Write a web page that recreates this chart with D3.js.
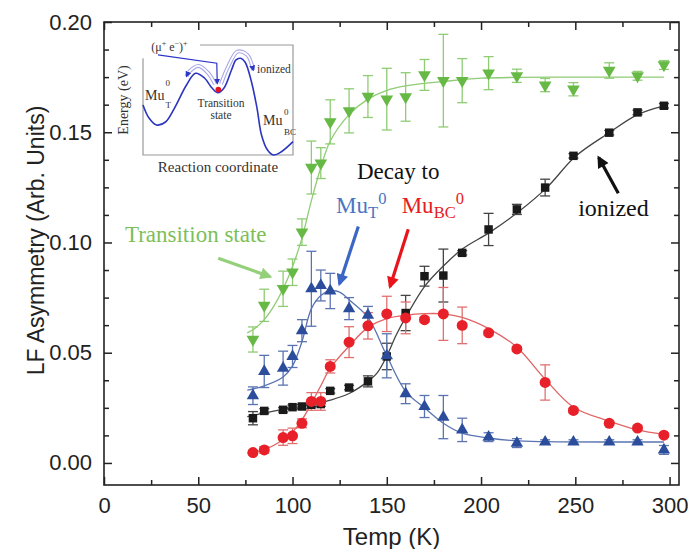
<!DOCTYPE html>
<html>
<head>
<meta charset="utf-8">
<script src="https://cdn.jsdelivr.net/npm/d3@7"></script>
<style>
  body { margin: 0; background: #fff; }
</style>
</head>
<body>
<svg id="chart" width="688" height="549"></svg>
<script>
// temperatures shared by all four series (K)
const temps = [79, 85, 95, 100, 105, 110, 115, 120, 130, 140, 150, 160, 170, 180, 190, 204, 219, 234, 249, 268, 283, 297];

const transState = [0.056, 0.0715, 0.079, 0.0865, 0.1047, 0.134, 0.136, 0.1547, 0.1597, 0.1662, 0.165, 0.166, 0.176, 0.1734, 0.1734, 0.1768, 0.1756, 0.1714, 0.1695, 0.178, 0.1756, 0.1805];
const transErr   = [0.0057, 0.0073, 0.008, 0.006, 0.006, 0.012, 0.007, 0.01, 0.01, 0.0095, 0.014, 0.011, 0.007, 0.021, 0.01, 0.0075, 0.003, 0.003, 0.003, 0.0035, 0.002, 0.002];

const muT    = [0.0305, 0.0415, 0.043, 0.0483, 0.06, 0.079, 0.0805, 0.078, 0.07, 0.067, 0.0486, 0.0314, 0.0256, 0.0208, 0.015, 0.0117, 0.009, 0.0095, 0.0095, 0.0095, 0.0095, 0.0059];
const muTErr = [0.004, 0.0073, 0.0077, 0.005, 0.005, 0.017, 0.007, 0.008, 0.005, 0.004, 0.01, 0.0045, 0.005, 0.0098, 0.0053, 0.002, 0.002, 0.001, 0.001, 0.001, 0.001, 0.002];

const muBC    = [0.0047, 0.0059, 0.0115, 0.0123, 0.018, 0.0279, 0.0279, 0.0438, 0.0548, 0.0622, 0.0676, 0.0658, 0.065, 0.0676, 0.0624, 0.059, 0.0517, 0.0365, 0.0238, 0.018, 0.0158, 0.0126];
const muBCErr = [0.001, 0.0015, 0.0035, 0.0035, 0.002, 0.004, 0.004, 0.003, 0.007, 0.006, 0.008, 0.0072, 0.001, 0.012, 0.0083, 0.001, 0.001, 0.008, 0.001, 0.001, 0.001, 0.001];

const ionized    = [0.0203, 0.0236, 0.0241, 0.0253, 0.0256, 0.0264, 0.0267, 0.0327, 0.0342, 0.037, 0.0483, 0.068, 0.0847, 0.085, 0.0953, 0.1059, 0.115, 0.1249, 0.1393, 0.1498, 0.159, 0.162];
const ionizedErr = [0.003, 0.001, 0.001, 0.001, 0.001, 0.001, 0.001, 0.001, 0.001, 0.0025, 0.006, 0.008, 0.0045, 0.012, 0.001, 0.0073, 0.0023, 0.0038, 0.001, 0.001, 0.001, 0.001];

// fitted curves
const transFitT = [76, 80, 85, 90, 95, 100, 105, 110, 115, 120, 130, 140, 150, 160, 180, 200, 250, 297];
const transFit  = [0.059, 0.061, 0.065, 0.071, 0.079, 0.089, 0.102, 0.119, 0.134, 0.146, 0.158, 0.165, 0.169, 0.171, 0.173, 0.1745, 0.175, 0.175];
const muTFitT = [76, 85, 95, 100, 105, 110, 115, 120, 125, 130, 140, 150, 160, 170, 180, 190, 205, 220, 240, 297];
const muTFit  = [0.033, 0.035, 0.039, 0.044, 0.055, 0.07, 0.076, 0.078, 0.0775, 0.074, 0.066, 0.0486, 0.0325, 0.025, 0.018, 0.0135, 0.0112, 0.01, 0.0096, 0.0095];
const muBCFitT = [76, 85, 95, 100, 105, 110, 115, 120, 130, 140, 150, 160, 170, 180, 190, 205, 219, 234, 249, 268, 283, 297];
const muBCFit  = [0.0044, 0.006, 0.0105, 0.014, 0.0195, 0.027, 0.035, 0.043, 0.053, 0.0615, 0.0655, 0.067, 0.0677, 0.0676, 0.066, 0.0605, 0.0525, 0.038, 0.0253, 0.019, 0.015, 0.013];
const ionFitT = [76, 90, 100, 110, 120, 130, 140, 145, 150, 155, 160, 170, 180, 190, 205, 220, 235, 250, 268, 283, 297];
const ionFit  = [0.021, 0.0235, 0.025, 0.0265, 0.0285, 0.0315, 0.037, 0.041, 0.0485, 0.058, 0.066, 0.08, 0.0893, 0.097, 0.1048, 0.114, 0.125, 0.139, 0.1498, 0.158, 0.162];

const xTicks = [0, 50, 100, 150, 200, 250, 300];
const xMinor = [25, 75, 125, 175, 225, 275];
const yTicks = [0, 0.05, 0.10, 0.15, 0.20];
const yMinor = [0.0125, 0.025, 0.0375, 0.0625, 0.075, 0.0875, 0.1125, 0.125, 0.1375, 0.1625, 0.175, 0.1875];

// inset energy landscape (arbitrary units, 0..10 both ways)
const insetCurveX = [0, 0.4, 0.9, 1.5, 2.1, 2.9, 3.5, 4.1, 4.6, 5.0, 5.4, 5.9, 6.2, 6.5, 6.8, 7.2, 7.6, 7.9, 8.3, 8.7, 9.2, 10];
const insetCurveE = [4.55, 3.36, 2.73, 3.0, 4.27, 6.36, 7.43, 7.0, 6.09, 5.66, 6.09, 7.73, 8.64, 8.79, 8.45, 6.82, 4.27, 1.82, 0.45, 0.0, 0.27, 1.21];

const svg = d3.select("#chart");
const sansFont = "'Liberation Sans', Arial, sans-serif";
const serifFont = "'Liberation Serif', 'Times New Roman', serif";

const x = d3.scaleLinear().domain([0, 305]).range([104, 679]);
const y = d3.scaleLinear().domain([-0.01, 0.20]).range([485, 22]);

// arrow heads
const defs = svg.append("defs");
function arrowHead(id, color, w, h) {
  defs.append("marker")
    .attr("id", id)
    .attr("viewBox", "0 0 10 10")
    .attr("refX", 8).attr("refY", 5)
    .attr("markerUnits", "userSpaceOnUse")
    .attr("markerWidth", w).attr("markerHeight", h)
    .attr("orient", "auto")
    .append("path").attr("d", "M0,0 L10,5 L0,10 z").attr("fill", color);
}
arrowHead("ah-green", "#94d07a", 13, 12);
arrowHead("ah-blue", "#3a66c4", 13, 12);
arrowHead("ah-red", "#e8141c", 13, 12);
arrowHead("ah-black", "#111", 13, 12);
arrowHead("ah-inset", "#2b35c8", 6, 6);

// ---- axes ----
function styleAxis(g) {
  g.select(".domain").remove();
  g.selectAll("line").attr("stroke", "#222").attr("stroke-width", 1.5);
  g.attr("font-family", sansFont).attr("font-size", 22);
  g.selectAll("text").attr("fill", "#222");
}

svg.append("g").attr("transform", `translate(0,${y(-0.01)})`)
  .call(d3.axisBottom(x).tickValues(xTicks).tickSize(-8).tickPadding(12).tickFormat(d3.format("d")))
  .call(styleAxis);
svg.append("g").attr("transform", `translate(0,${y(-0.01)})`)
  .call(d3.axisBottom(x).tickValues(xMinor).tickSize(-5).tickFormat(""))
  .call(styleAxis);
svg.append("g").attr("transform", `translate(0,${y(0.20)})`)
  .call(d3.axisTop(x).tickValues(xTicks).tickSize(-8).tickFormat(""))
  .call(styleAxis);
svg.append("g").attr("transform", `translate(0,${y(0.20)})`)
  .call(d3.axisTop(x).tickValues(xMinor).tickSize(-5).tickFormat(""))
  .call(styleAxis);

svg.append("g").attr("transform", `translate(${x(0)},0)`)
  .call(d3.axisLeft(y).tickValues(yTicks).tickSize(-8).tickPadding(12).tickFormat(d3.format(".2f")))
  .call(styleAxis);
svg.append("g").attr("transform", `translate(${x(0)},0)`)
  .call(d3.axisLeft(y).tickValues(yMinor).tickSize(-5).tickFormat(""))
  .call(styleAxis);
svg.append("g").attr("transform", `translate(${x(305)},0)`)
  .call(d3.axisRight(y).tickValues(yTicks).tickSize(-8).tickFormat(""))
  .call(styleAxis);
svg.append("g").attr("transform", `translate(${x(305)},0)`)
  .call(d3.axisRight(y).tickValues(yMinor).tickSize(-5).tickFormat(""))
  .call(styleAxis);

svg.append("rect")
  .attr("x", x(0)).attr("y", y(0.20))
  .attr("width", x(305) - x(0)).attr("height", y(-0.01) - y(0.20))
  .attr("fill", "none").attr("stroke", "#222").attr("stroke-width", 1.6);

svg.append("text")
  .attr("x", (x(0) + x(305)) / 2).attr("y", 545)
  .attr("text-anchor", "middle")
  .attr("font-family", sansFont).attr("font-size", 24).attr("fill", "#222")
  .text("Temp (K)");
svg.append("text")
  .attr("transform", `translate(44,${(y(0.20) + y(-0.01)) / 2 - 13}) rotate(-90)`)
  .attr("text-anchor", "middle")
  .attr("font-family", sansFont).attr("font-size", 23).attr("fill", "#222")
  .text("LF Asymmetry (Arb. Units)");

// ---- series ----
const series = [
  { vals: ionized, err: ionizedErr, fitT: ionFitT, fit: ionFit, mark: "#1a1a1a", bar: "#444", line: "#444", sym: d3.symbolSquare, size: 72, rot: 0 },
  { vals: muBC, err: muBCErr, fitT: muBCFitT, fit: muBCFit, mark: "#e8202a", bar: "#e07070", line: "#e06464", sym: d3.symbolCircle, size: 95, rot: 0 },
  { vals: muT, err: muTErr, fitT: muTFitT, fit: muTFit, mark: "#2c4d9c", bar: "#5a74b2", line: "#5a74b2", sym: d3.symbolTriangle, size: 66, rot: 0 },
  { vals: transState, err: transErr, fitT: transFitT, fit: transFit, mark: "#67b946", bar: "#8fcc74", line: "#8fcc74", sym: d3.symbolTriangle, size: 70, rot: 180 }
];

const line = d3.line().curve(d3.curveCatmullRom.alpha(0.5)).x(d => x(d[0])).y(d => y(d[1]));

series.forEach(s => {
  svg.append("path")
    .datum(s.fitT.map((t, i) => [t, s.fit[i]]))
    .attr("d", line)
    .attr("fill", "none").attr("stroke", s.line).attr("stroke-width", 1.3);
});

series.forEach(s => {
  const pts = temps.map((t, i) => ({ t: t, v: s.vals[i], e: s.err[i] }));
  const g = svg.append("g").attr("stroke", s.bar).attr("stroke-width", 1.3);
  g.selectAll(".bar").data(pts).join("line")
    .attr("x1", d => x(d.t)).attr("x2", d => x(d.t))
    .attr("y1", d => y(d.v - d.e)).attr("y2", d => y(d.v + d.e));
  g.selectAll(".capt").data(pts).join("line")
    .attr("x1", d => x(d.t) - 5).attr("x2", d => x(d.t) + 5)
    .attr("y1", d => y(d.v + d.e)).attr("y2", d => y(d.v + d.e));
  g.selectAll(".capb").data(pts).join("line")
    .attr("x1", d => x(d.t) - 5).attr("x2", d => x(d.t) + 5)
    .attr("y1", d => y(d.v - d.e)).attr("y2", d => y(d.v - d.e));
});

series.forEach(s => {
  const sym = d3.symbol().type(s.sym).size(s.size);
  svg.append("g").selectAll("path")
    .data(temps.map((t, i) => [t, s.vals[i]]))
    .join("path")
    .attr("d", sym)
    .attr("transform", d => `translate(${x(d[0])},${y(d[1])}) rotate(${s.rot})`)
    .attr("fill", s.mark);
});

// ---- annotations ----
const arrows = [
  { from: [60.6, 0.0928], to: [88.1, 0.0845], color: "#94d07a", head: "ah-green" },
  { from: [134.9, 0.1072], to: [124.9, 0.0812], color: "#3a66c4", head: "ah-blue" },
  { from: [161.4, 0.106], to: [151.7, 0.0799], color: "#e8141c", head: "ah-red" },
  { from: [272.8, 0.1223], to: [262.4, 0.1385], color: "#111", head: "ah-black" }
];
arrows.forEach(a => {
  svg.append("line")
    .attr("x1", x(a.from[0])).attr("y1", y(a.from[1]))
    .attr("x2", x(a.to[0])).attr("y2", y(a.to[1]))
    .attr("stroke", a.color).attr("stroke-width", 3.2)
    .attr("marker-end", `url(#${a.head})`);
});

function label(t, v, parts, color, size) {
  const txt = svg.append("text")
    .attr("x", x(t)).attr("y", y(v))
    .attr("font-family", serifFont).attr("font-size", size).attr("fill", color);
  parts.forEach(p => {
    const ts = txt.append("tspan").text(p.s);
    if (p.sub) ts.attr("font-size", size * 0.72).attr("dy", size * 0.22);
    if (p.sup) ts.attr("font-size", size * 0.72).attr("dy", -size * 0.62);
  });
}
label(11.1, 0.1003, [{ s: "Transition state" }], "#7cbf58", 23);
label(134.2, 0.1288, [{ s: "Decay to" }], "#111", 23);
label(123.1, 0.1134, [{ s: "Mu" }, { s: "T", sub: true }, { s: "0", sup: true }], "#4a74c4", 23);
label(157.9, 0.1134, [{ s: "Mu" }, { s: "BC", sub: true }, { s: "0", sup: true }], "#e51c22", 23);
label(251.5, 0.112, [{ s: "ionized" }], "#111", 24);

// ---- inset ----
const ix = d3.scaleLinear().domain([0, 10]).range([143, 293]);
const iy = d3.scaleLinear().domain([0, 10]).range([155, 45]);
const inset = svg.append("g");

inset.append("path")
  .attr("d", d3.line()([[ix(0), iy(8.8)], [ix(0), iy(0)], [ix(10), iy(0)], [ix(10), iy(10)], [ix(3.8), iy(10)]]))
  .attr("fill", "none").attr("stroke", "#9a9a9a").attr("stroke-width", 1.2);

inset.append("path")
  .datum(insetCurveX.map((u, i) => [u, insetCurveE[i]]))
  .attr("d", d3.line().curve(d3.curveCatmullRom.alpha(0.5)).x(d => ix(d[0])).y(d => iy(d[1])))
  .attr("fill", "none").attr("stroke", "#2b35c0").attr("stroke-width", 1.6);

// hopping arrows over the two barriers
const hopLeft = [[4.8, 6.45], [4.35, 7.45], [3.7, 8.1], [3.1, 7.6], [2.9, 7.15]];
const hopRight = [[5.2, 6.45], [5.7, 8.1], [6.3, 9.4], [6.95, 9.1], [7.35, 7.7]];
[hopLeft, hopRight].forEach(h => {
  const d = d3.line().curve(d3.curveCatmullRom).x(p => ix(p[0])).y(p => iy(p[1]))(h);
  inset.append("path").attr("d", d).attr("fill", "none").attr("stroke", "#a8a8e8").attr("stroke-width", 4);
  inset.append("path").attr("d", d).attr("fill", "none").attr("stroke", "#fff").attr("stroke-width", 1.8)
    .attr("marker-end", "url(#ah-inset)");
});

inset.append("path")
  .attr("d", d3.line()([[ix(1.0), iy(9.1)], [ix(4.92), iy(8.35)], [ix(4.95), iy(6.5)]]))
  .attr("fill", "none").attr("stroke", "#2b35c8").attr("stroke-width", 1.2)
  .attr("marker-end", "url(#ah-inset)");

inset.append("circle").attr("cx", ix(5.02)).attr("cy", iy(5.95)).attr("r", 2.8).attr("fill", "#e8141c");

function itext(u, e, s, size, anchor) {
  return inset.append("text").attr("x", ix(u)).attr("y", iy(e))
    .attr("font-family", serifFont).attr("font-size", size).attr("fill", "#333")
    .attr("text-anchor", anchor || "start").text(s);
}
const mue = inset.append("text").attr("x", ix(0.55)).attr("y", iy(9.45))
  .attr("font-family", serifFont).attr("font-size", 12).attr("fill", "#333");
mue.append("tspan").text("(μ");
mue.append("tspan").text("+").attr("font-size", 8).attr("dy", -5);
mue.append("tspan").text(" e").attr("dy", 5);
mue.append("tspan").text("−").attr("font-size", 8).attr("dy", -5);
mue.append("tspan").text(")").attr("dy", 5);
mue.append("tspan").text("+").attr("font-size", 8).attr("dy", -5);

itext(7.6, 7.45, "ionized", 11.5);
itext(5.2, 4.4, "Transition", 11.5, "middle");
itext(5.2, 3.25, "state", 11.5, "middle");
itext(0.13, 5.0, "Mu", 14);
itext(1.5, 6.3, "0", 9);
itext(1.5, 4.3, "T", 9);
itext(8.0, 2.75, "Mu", 14);
itext(9.4, 3.6, "0", 9);
itext(9.4, 1.8, "BC", 9);
itext(5.0, -1.52, "Reaction coordinate", 15, "middle");
inset.append("text")
  .attr("transform", `translate(${ix(-1.0)},${iy(5.0)}) rotate(-90)`)
  .attr("text-anchor", "middle")
  .attr("font-family", serifFont).attr("font-size", 14).attr("fill", "#333")
  .text("Energy (eV)");
</script>
</body>
</html>
